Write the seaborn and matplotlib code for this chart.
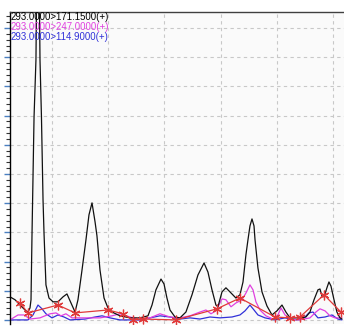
import seaborn as sns
import matplotlib
matplotlib.use("Agg")
import matplotlib.pyplot as plt
from matplotlib.ticker import MultipleLocator, AutoMinorLocator

# chromatogram traces (scan, relative intensity)
black_scan = [12.6, 17.1, 21.5, 26.0, 28.6, 30.4, 31.3, 32.2, 34.0, 35.7, 37.5, 39.3, 40.6, 42.0, 42.9,
              44.6, 47.3, 50.9, 55.3, 59.8, 63.3, 66.9, 70.5, 73.1, 76.7, 80.2, 82.9, 85.6, 88.3, 90.0,
              92.7, 96.3, 99.8, 103.4, 110.5, 119.4, 128.3, 135.4, 139.0, 142.5, 147.0, 149.7, 152.3,
              155.0, 159.5, 163.9, 169.2, 174.6, 179.9, 185.3, 188.8, 192.4, 195.9, 197.7, 201.3, 204.8,
              208.4, 213.7, 217.3, 220.0, 222.6, 224.4, 226.2, 228.0, 229.8, 230.7, 233.3, 236.9, 241.3,
              245.8, 250.2, 254.7, 258.2, 261.8, 270.7, 276.0, 279.6, 283.2, 286.7, 288.5, 290.3, 292.1,
              294.7, 296.5, 298.3, 301.0, 303.6, 306.3, 308.1]
black_int = [7.9, 6.9, 5.1, 3.4, 2.7, 4.1, 6.9, 29.5, 69.5, 89.1, 160.0, 89.1, 69.5, 41.1, 29.5,
             12.0, 7.5, 6.2, 6.2, 7.9, 8.9, 5.8, 2.7, 6.9, 17.1, 27.4, 36.0, 40.1, 33.6, 28.8,
             17.1, 7.5, 4.1, 2.7, 1.4, 0.7, 0.7, 1.4, 5.1, 10.3, 14.0, 12.3, 7.5,
             3.4, 1.0, 0.7, 2.7, 8.6, 15.4, 19.5, 16.4, 10.3, 5.1, 4.5, 9.6, 11.0,
             9.6, 7.5, 8.6, 13.0, 22.3, 27.4, 32.2, 34.6, 32.2, 27.4, 17.8, 9.6, 4.8,
             1.7, 3.1, 5.1, 2.7, 0.7, 0.7, 1.0, 2.7, 6.9, 10.3, 10.6, 8.2, 7.9,
             11.0, 13.0, 11.6, 6.9, 2.7, 0.7, 0.3]

magenta_scan = [12.6, 19.7, 25.1, 30.4, 39.3, 48.2, 53.5, 58.0, 62.4, 67.8, 79.4, 92.7, 103.4, 110.5,
                119.4, 128.3, 137.2, 146.1, 155.0, 163.9, 172.8, 181.7, 187.0, 191.5, 195.9, 201.3,
                204.8, 209.3, 213.7, 219.1, 222.6, 226.2, 228.9, 231.5, 235.1, 240.4, 246.7, 251.1,
                253.8, 257.4, 261.8, 270.7, 279.6, 284.9, 288.5, 293.0, 297.4, 301.9, 308.1]
magenta_int = [0.0, 1.7, 1.7, 0.3, 0.7, 2.1, 2.4, 1.4, 2.1, 0.7, 0.7, 0.7, 1.4, 2.1,
               1.0, 0.0, 0.7, 2.1, 1.0, 0.7, 1.4, 2.7, 3.4, 2.1, 3.1, 7.2,
               6.9, 4.5, 5.8, 6.9, 9.2, 12.0, 10.3, 6.2, 3.4, 1.4, 0.3, 1.7,
               4.1, 1.7, 0.3, 0.0, 0.7, 2.7, 3.8, 3.1, 1.4, 0.7, 0.7]

blue_scan = [12.6, 28.6, 33.1, 37.5, 41.1, 44.6, 50.0, 55.3, 60.7, 66.0, 79.4, 88.3, 94.5, 101.6,
             110.5, 128.3, 137.2, 146.1, 155.0, 163.9, 172.8, 181.7, 190.6, 199.5, 210.2, 217.3,
             221.8, 226.2, 229.8, 233.3, 239.6, 248.5, 257.4, 266.3, 273.4, 278.7, 282.3, 286.7,
             293.0, 299.2, 304.5, 308.1]
blue_int = [0.0, 0.0, 1.7, 5.1, 3.8, 2.1, 0.7, 1.7, 1.0, 0.0, 0.3, 1.0, 1.4, 0.7,
            0.0, 0.0, 0.7, 1.4, 1.0, 0.3, 0.7, 0.3, 1.0, 0.7, 1.0, 1.7,
            3.1, 5.1, 3.4, 1.7, 0.7, 0.0, 0.7, 0.0, 0.3, 2.4, 2.7, 0.7,
            1.0, 1.7, 0.3, 0.0]

# baseline points
red_scan = [21.5, 28.6, 55.3, 70.5, 99.8, 113.2, 122.1, 131.0, 160.3, 196.8, 217.3, 248.5,
            261.8, 270.7, 292.1, 307.2]
red_int = [5.8, 2.4, 5.1, 2.4, 3.4, 2.1, 0.0, 0.3, 0.0, 3.8, 7.5, 1.0, 0.7, 1.0, 8.6, 2.7]

labels = ["293.0000>171.1500(+)", "293.0000>247.0000(+)", "293.0000>114.9000(+)"]
label_colors = ["#000000", "#e040e0", "#3030d8"]

sns.set_style("white", {"axes.facecolor": "#fafafa"})

fig = plt.figure(figsize=(3.44, 3.26), dpi=100)
ax = fig.add_axes([10 / 344, 2 / 326, 334 / 344, 312 / 326])

sns.lineplot(x=blue_scan, y=blue_int, ax=ax, color="#3030d8", lw=0.9, estimator=None)
sns.lineplot(x=magenta_scan, y=magenta_int, ax=ax, color="#e040e0", lw=0.9, estimator=None)
sns.lineplot(x=black_scan, y=black_int, ax=ax, color="#111111", lw=0.9, estimator=None)
sns.lineplot(x=red_scan, y=red_int, ax=ax, color="#e03a3a", lw=0.9, estimator=None,
             marker=(6, 2, 0), markersize=7, markeredgewidth=0.9, markeredgecolor="#e03a3a")

ax.set_xlim(12.6, 309.9)
ax.set_ylim(-1.4, 105.5)
ax.xaxis.set_major_locator(MultipleLocator(50))
ax.yaxis.set_major_locator(MultipleLocator(10))
ax.yaxis.set_minor_locator(AutoMinorLocator(5))
ax.grid(True, which="major", color="#c8c8c8", linestyle=(0, (3, 3)), lw=0.8)
ax.set_xticklabels([])
ax.set_yticklabels([])
ax.tick_params(axis="x", length=0)
ax.tick_params(axis="y", which="major", left=True, direction="out", length=4, width=1,
               color="#4a7fc0")
ax.tick_params(axis="y", which="minor", left=True, direction="out", length=3, width=0.8,
               color="#333333")
ax.set_xlabel("")
ax.set_ylabel("")

ax.spines["left"].set_color("#000000")
ax.spines["left"].set_linewidth(1.0)
ax.spines["top"].set_color("#404040")
ax.spines["top"].set_linewidth(1.0)
ax.spines["right"].set_visible(False)
ax.spines["bottom"].set_visible(False)

text_y = [0.999, 0.967, 0.936]
for txt, c, ty in zip(labels, label_colors, text_y):
    ax.text(0.003, ty, txt, transform=ax.transAxes,
            color=c, fontsize=6.9, va="top", ha="left",
            family=["Liberation Sans", "DejaVu Sans"])

fig.savefig("out.png", dpi=100)
